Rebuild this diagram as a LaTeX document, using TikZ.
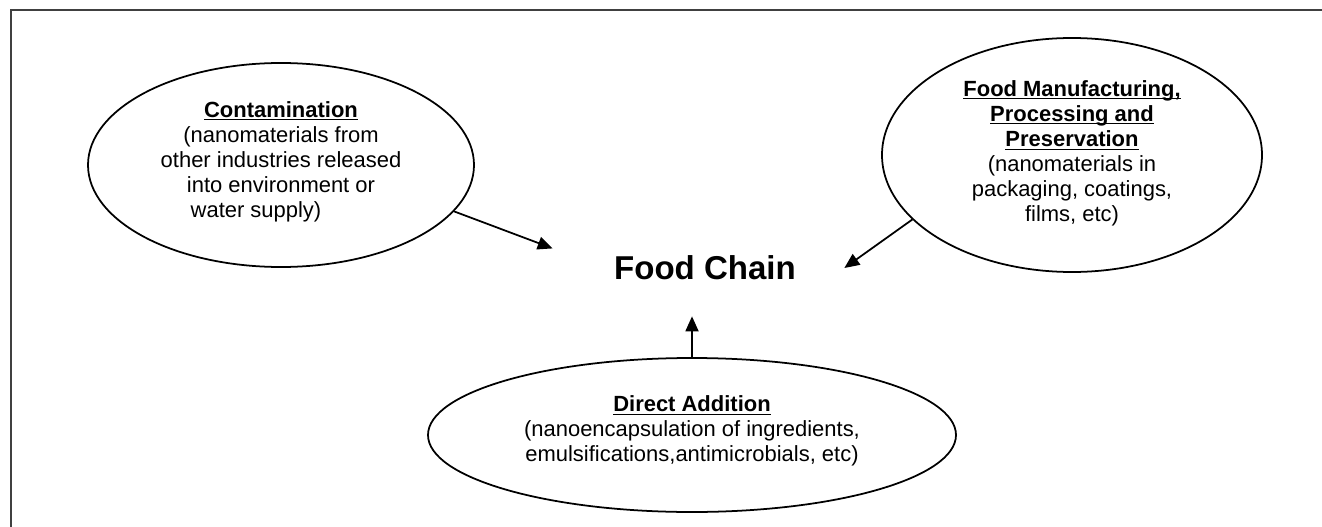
\documentclass[tikz,border=0pt]{standalone}
\usepackage{fontspec}
\setmainfont{Liberation Sans}
\usepackage{xcolor}
\usepackage{tikz}
\usetikzlibrary{arrows.meta,shapes.geometric}

% underlined heading, rule at the same depth on every line
\newcommand{\headline}[1]{\textbf{\underline{\smash{#1}\vphantom{A}}}}

\begin{document}
\begin{tikzpicture}[
				font=\fontsize{12.5}{14.3}\selectfont,
				>={Triangle[length=0.3cm,width=0.26cm]},
				source/.style={
					ellipse, draw=black, line width=1pt,
					align=center, inner sep=0pt
				},
				hub/.style={
					ellipse, draw=none,
					minimum width=6.08cm, minimum height=1.92cm,
					inner sep=0pt, font=\fontsize{18.8}{22}\selectfont\bfseries
				},
				arr/.style={->, line width=1pt, black},
				frame/.style={line width=1.2pt, black!75}
				]
				
				%% ─── PAGE AND FRAME ─────────────────────────────────────────────
				\useasboundingbox (0,0) rectangle (26.44,-10.54);
				\draw[frame] (26.5,-0.2) -- (0.22,-0.2) -- (0.22,-10.6);
				
				%% ─── ROUTES INTO THE FOOD CHAIN ─────────────────────────────────
				\node[hub] (chain) at (13.84,-5.36) {\hspace*{0.52cm}Food Chain};
				
				\node[source, minimum width=7.72cm, minimum height=4.08cm] (cont) at (5.62,-3.30)
				{\headline{Contamination}\\
					(nanomaterials from\\
					other industries released\\
					into environment or\\
					water supply)\hspace*{1cm}\rule[-0.2cm]{0pt}{0pt}};
				
				\node[source, minimum width=7.6cm, minimum height=4.68cm] (manuf) at (21.44,-3.10)
				{\headline{Food Manufacturing,}\\
					\headline{Processing and}\\
					\headline{Preservation}\\
					(nanomaterials in\\
					packaging, coatings,\\
					films, etc)\rule[-0.14cm]{0pt}{0pt}};
				
				\node[source, minimum width=10.56cm, minimum height=3.08cm] (direct) at (13.84,-8.70)
				{\headline{Direct Addition}\\
					(nanoencapsulation of ingredients,\\
					emulsifications,antimicrobials, etc)\rule[-0.24cm]{0pt}{0pt}};
				
				\draw[arr] (cont.-15) -- (chain.172);
				\draw[arr] (manuf.202) -- (chain.0);
				\draw[arr] (direct.north) -- (chain.south);
				
\end{tikzpicture}
\end{document}
